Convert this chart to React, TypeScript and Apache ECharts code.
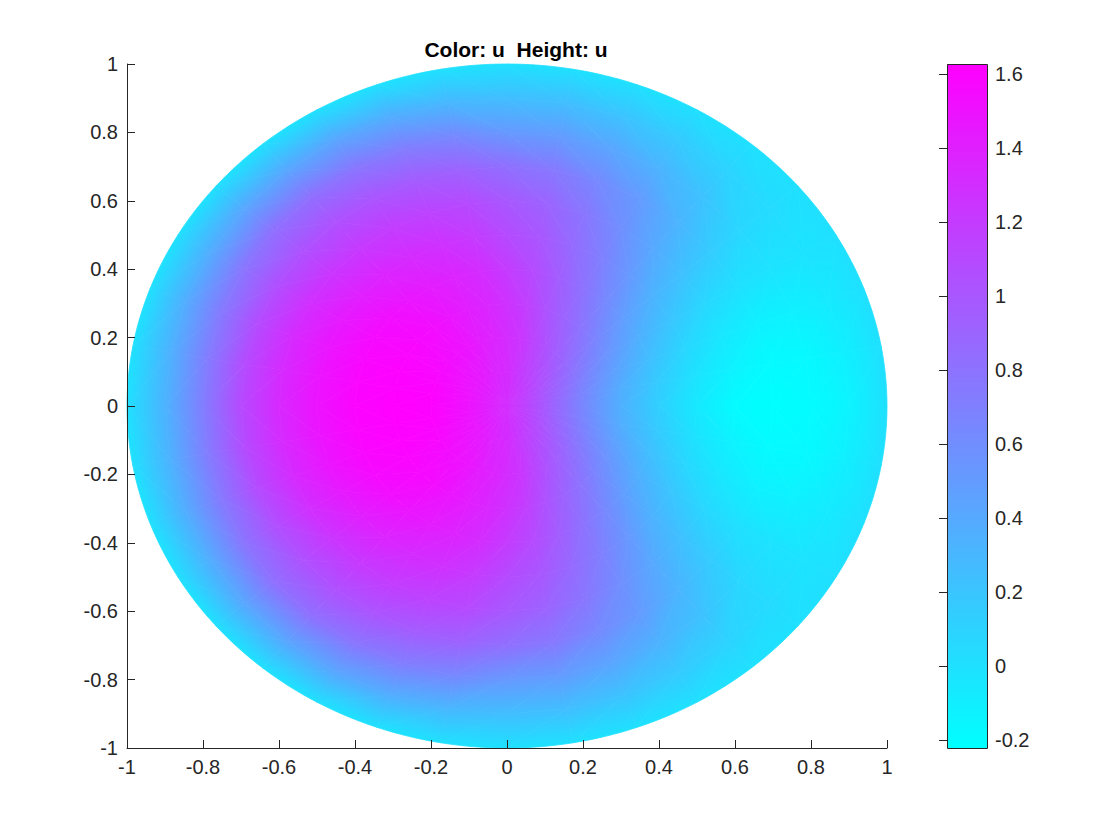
import React, { useEffect, useRef } from "react";
import * as echarts from "echarts";

// ---------- data ----------
const TITLE = "Color: u  Height: u";
const X_TICKS = [-1, -0.8, -0.6, -0.4, -0.2, 0, 0.2, 0.4, 0.6, 0.8, 1];
const Y_TICKS = [-1, -0.8, -0.6, -0.4, -0.2, 0, 0.2, 0.4, 0.6, 0.8, 1];
const COLORBAR_TICKS = [-0.2, 0, 0.2, 0.4, 0.6, 0.8, 1, 1.2, 1.4, 1.6];
const U_RANGE = [-0.222, 1.627];
const COOL_COLORMAP = ["#00ffff", "#ff00ff"];

// polar sampling of u on the unit disk
const RADII = [0.1, 0.2, 0.3, 0.4, 0.5, 0.6, 0.7, 0.8, 0.9, 1.0];
const ANGLES_DEG = [
  0, 10, 20, 30, 40, 50, 60, 70, 80, 90, 100, 110, 120, 130, 140, 150, 160, 170,
  180, 190, 200, 210, 220, 230, 240, 250, 260, 270, 280, 290, 300, 310, 320, 330, 340, 350,
];
const U_CENTER = 1.3;
const U_R01 = [0.98, 0.99, 1.01, 1.04, 1.08, 1.12, 1.16, 1.21, 1.27, 1.32, 1.34, 1.37, 1.41, 1.44, 1.46, 1.47, 1.49, 1.5, 1.5, 1.5, 1.49, 1.47, 1.46, 1.44, 1.41, 1.37, 1.34, 1.32, 1.27, 1.21, 1.16, 1.12, 1.08, 1.04, 1.01, 0.99];
const U_R02 = [0.65, 0.67, 0.72, 0.79, 0.87, 0.95, 1.04, 1.14, 1.25, 1.31, 1.37, 1.42, 1.48, 1.51, 1.54, 1.57, 1.59, 1.61, 1.61, 1.61, 1.59, 1.57, 1.54, 1.51, 1.48, 1.42, 1.37, 1.31, 1.25, 1.14, 1.04, 0.95, 0.87, 0.79, 0.72, 0.67];
const U_R03 = [0.35, 0.38, 0.46, 0.56, 0.67, 0.79, 0.91, 1.03, 1.17, 1.27, 1.35, 1.42, 1.48, 1.54, 1.57, 1.59, 1.61, 1.62, 1.627, 1.62, 1.61, 1.59, 1.57, 1.54, 1.48, 1.42, 1.35, 1.27, 1.17, 1.03, 0.91, 0.79, 0.67, 0.56, 0.46, 0.38];
const U_R04 = [0.12, 0.16, 0.24, 0.35, 0.48, 0.64, 0.8, 0.95, 1.09, 1.2, 1.31, 1.37, 1.43, 1.48, 1.53, 1.56, 1.58, 1.59, 1.6, 1.59, 1.58, 1.56, 1.53, 1.48, 1.43, 1.37, 1.31, 1.2, 1.09, 0.95, 0.8, 0.64, 0.48, 0.35, 0.24, 0.16];
const U_R05 = [-0.06, -0.01, 0.07, 0.19, 0.33, 0.52, 0.7, 0.86, 1.0, 1.09, 1.21, 1.28, 1.32, 1.37, 1.41, 1.45, 1.48, 1.49, 1.5, 1.49, 1.48, 1.45, 1.41, 1.37, 1.32, 1.28, 1.21, 1.09, 1.0, 0.86, 0.7, 0.52, 0.33, 0.19, 0.07, -0.01];
const U_R06 = [-0.19, -0.13, -0.05, 0.07, 0.23, 0.4, 0.59, 0.77, 0.91, 0.99, 1.1, 1.15, 1.19, 1.22, 1.25, 1.29, 1.32, 1.33, 1.34, 1.33, 1.32, 1.29, 1.25, 1.22, 1.19, 1.15, 1.1, 0.99, 0.91, 0.77, 0.59, 0.4, 0.23, 0.07, -0.05, -0.13];
const U_R07 = [-0.222, -0.19, -0.12, 0.0, 0.15, 0.32, 0.5, 0.63, 0.76, 0.82, 0.92, 0.97, 1.02, 1.05, 1.05, 1.06, 1.08, 1.09, 1.1, 1.09, 1.08, 1.06, 1.05, 1.05, 1.02, 0.97, 0.92, 0.82, 0.76, 0.63, 0.5, 0.32, 0.15, 0.0, -0.12, -0.19];
const U_R08 = [-0.2, -0.18, -0.12, -0.02, 0.07, 0.22, 0.33, 0.43, 0.5, 0.52, 0.64, 0.72, 0.78, 0.82, 0.82, 0.78, 0.75, 0.73, 0.72, 0.73, 0.75, 0.78, 0.82, 0.82, 0.78, 0.72, 0.64, 0.52, 0.5, 0.43, 0.33, 0.22, 0.07, -0.02, -0.12, -0.18];
const U_R09 = [-0.14, -0.11, -0.07, -0.02, 0.04, 0.1, 0.16, 0.21, 0.25, 0.25, 0.3, 0.37, 0.42, 0.42, 0.42, 0.38, 0.37, 0.34, 0.33, 0.34, 0.37, 0.38, 0.42, 0.42, 0.42, 0.37, 0.3, 0.25, 0.25, 0.21, 0.16, 0.1, 0.04, -0.02, -0.07, -0.11];
const U_R10 = [0, 0, 0, 0, 0, 0, 0, 0, 0, 0, 0, 0, 0, 0, 0, 0, 0, 0, 0, 0, 0, 0, 0, 0, 0, 0, 0, 0, 0, 0, 0, 0, 0, 0, 0, 0];
const U_RINGS = [U_R01, U_R02, U_R03, U_R04, U_R05, U_R06, U_R07, U_R08, U_R09, U_R10];

// ---------- styling ----------
const FONT = "'Liberation Sans', Arial, Helvetica, sans-serif";
const AXIS_COLOR = "#262626";
const TICK_FONT = 20;
const MAIN = { left: 127, top: 64, width: 760, height: 684 };
const CBAR = { left: 947, top: 64, width: 40, height: 684 };

function hexToRgb(h: string) {
  const n = parseInt(h.slice(1), 16);
  return [(n >> 16) & 255, (n >> 8) & 255, n & 255];
}
const C0 = hexToRgb(COOL_COLORMAP[0]);
const C1 = hexToRgb(COOL_COLORMAP[1]);
function cmap(v: number) {
  let t = (v - U_RANGE[0]) / (U_RANGE[1] - U_RANGE[0]);
  t = Math.max(0, Math.min(1, t));
  const c = C0.map((a, i) => Math.round(a + (C1[i] - a) * t));
  return `rgb(${c[0]},${c[1]},${c[2]})`;
}

// triangles built from the polar samples: [x1,y1,v1,x2,y2,v2,x3,y3,v3,arc]
function buildTriangles() {
  const node = (i: number, j: number) => {
    if (i < 0) return [0, 0, U_CENTER];
    const a = (ANGLES_DEG[j] * Math.PI) / 180;
    return [RADII[i] * Math.cos(a), RADII[i] * Math.sin(a), U_RINGS[i][j]];
  };
  const tris: number[][] = [];
  const nA = ANGLES_DEG.length;
  const last = RADII.length - 1;
  for (let j = 0; j < nA; j++) {
    const j1 = (j + 1) % nA;
    tris.push([...node(-1, 0), ...node(0, j), ...node(0, j1), 0]);
    for (let i = 0; i < last; i++) {
      const arc = i + 1 === last ? 1 : 0;
      if (j < nA / 2) {
        tris.push([...node(i, j), ...node(i, j1), ...node(i + 1, j1), 0]);
        tris.push([...node(i, j), ...node(i + 1, j1), ...node(i + 1, j), arc]);
      } else {
        tris.push([...node(i, j), ...node(i, j1), ...node(i + 1, j), 0]);
        tris.push([...node(i, j1), ...node(i + 1, j1), ...node(i + 1, j), arc]);
      }
    }
  }
  return tris;
}

function gradientFor(P: number[][], V: number[]) {
  const [x1, y1] = P[0];
  const [x2, y2] = P[1];
  const [x3, y3] = P[2];
  const vmin = Math.min(...V);
  const vmax = Math.max(...V);
  const d = (x2 - x1) * (y3 - y1) - (x3 - x1) * (y2 - y1);
  if (Math.abs(d) < 1e-9 || vmax - vmin < 1e-6) return cmap((vmin + vmax) / 2);
  const a = ((V[1] - V[0]) * (y3 - y1) - (V[2] - V[0]) * (y2 - y1)) / d;
  const b = ((x2 - x1) * (V[2] - V[0]) - (x3 - x1) * (V[1] - V[0])) / d;
  const g2 = a * a + b * b;
  if (g2 < 1e-12) return cmap((vmin + vmax) / 2);
  const k = V.indexOf(vmin);
  const [sx, sy] = P[k];
  const s = (vmax - vmin) / g2;
  return new echarts.graphic.LinearGradient(
    sx, sy, sx + a * s, sy + b * s,
    [
      { offset: 0, color: cmap(vmin) },
      { offset: 1, color: cmap(vmax) },
    ],
    true
  );
}

const fmt = (v: number) => String(Math.round(v * 10) / 10);

export default function App() {
  const ref = useRef<HTMLDivElement>(null);
  useEffect(() => {
    if (!ref.current) return;
    const chart = echarts.init(ref.current, undefined, { renderer: "svg" });
    const triangles = buildTriangles();
    const axisLine = { show: true, onZero: false, lineStyle: { color: AXIS_COLOR, width: 1 } };
    const axisTick = { show: true, inside: true, length: 8, lineStyle: { color: AXIS_COLOR, width: 1 } };
    const axisLabel = { color: AXIS_COLOR, fontSize: TICK_FONT, fontFamily: FONT, formatter: fmt };

    chart.setOption({
      animation: false,
      backgroundColor: "#ffffff",
      grid: [
        { ...MAIN, containLabel: false },
        { ...CBAR, containLabel: false },
      ],
      xAxis: [
        {
          gridIndex: 0, type: "value", position: "bottom", min: -1, max: 1, interval: 0.2, z: 5,
          axisLine, axisTick: { ...axisTick, customValues: X_TICKS }, splitLine: { show: false },
          axisLabel: { ...axisLabel, margin: 9, customValues: X_TICKS },
        },
        { gridIndex: 1, type: "value", min: 0, max: 1, show: false },
      ],
      yAxis: [
        {
          gridIndex: 0, type: "value", position: "left", min: -1, max: 1, interval: 0.2, z: 5,
          axisLine, axisTick: { ...axisTick, customValues: Y_TICKS }, splitLine: { show: false },
          axisLabel: { ...axisLabel, margin: 9, customValues: Y_TICKS },
        },
        {
          gridIndex: 1, type: "value", position: "right",
          min: U_RANGE[0], max: U_RANGE[1], z: 5,
          axisLine: { show: false },
          axisTick: { ...axisTick, customValues: COLORBAR_TICKS },
          axisLabel: { ...axisLabel, margin: 8, customValues: COLORBAR_TICKS },
          splitLine: { show: false },
        },
      ],
      series: [
        {
          type: "custom",
          xAxisIndex: 0,
          yAxisIndex: 0,
          silent: true,
          clip: false,
          data: triangles,
          renderItem: (params: any, api: any) => {
            const P = [0, 1, 2].map((k) => api.coord([api.value(3 * k), api.value(3 * k + 1)]));
            const V = [0, 1, 2].map((k) => api.value(3 * k + 2));
            const points: number[][] = [P[0], P[1]];
            if (api.value(9)) {
              const xa = api.value(3), ya = api.value(4), xb = api.value(6), yb = api.value(7);
              const r = Math.hypot(xa, ya);
              const a0 = Math.atan2(ya, xa);
              let da = Math.atan2(yb, xb) - a0;
              while (da > Math.PI) da -= 2 * Math.PI;
              while (da < -Math.PI) da += 2 * Math.PI;
              const n = 8;
              for (let k = 1; k < n; k++) {
                const a = a0 + (da * k) / n;
                points.push(api.coord([r * Math.cos(a), r * Math.sin(a)]));
              }
            }
            points.push(P[2]);
            return {
              type: "polygon",
              shape: { points },
              style: {
                fill: gradientFor(P, V),
                stroke: gradientFor(P, V),
                lineWidth: 0.8,
                lineJoin: "round",
              },
            };
          },
        },
        {
          type: "custom",
          xAxisIndex: 1,
          yAxisIndex: 1,
          silent: true,
          data: [[0, U_RANGE[0], 1, U_RANGE[1]]],
          renderItem: (params: any, api: any) => {
            const p0 = api.coord([api.value(0), api.value(1)]);
            const p1 = api.coord([api.value(2), api.value(3)]);
            return {
              type: "rect",
              shape: { x: p0[0], y: p1[1], width: p1[0] - p0[0], height: p0[1] - p1[1] },
              style: {
                fill: new echarts.graphic.LinearGradient(0, 1, 0, 0, [
                  { offset: 0, color: COOL_COLORMAP[0] },
                  { offset: 1, color: COOL_COLORMAP[1] },
                ]),
              },
            };
          },
        },
      ],
      graphic: [
        {
          type: "rect",
          z: 100,
          silent: true,
          shape: { x: CBAR.left + 0.5, y: CBAR.top + 0.5, width: CBAR.width, height: CBAR.height },
          style: { fill: "none", stroke: AXIS_COLOR, lineWidth: 1 },
        },
        {
          type: "text",
          z: 100,
          x: 516,
          y: 49,
          style: {
            text: TITLE,
            fill: "#000000",
            font: `bold 21px ${FONT}`,
            textAlign: "center",
            textVerticalAlign: "middle",
          },
        },
      ],
    });
    return () => chart.dispose();
  }, []);
  return (
    <div
      ref={ref}
      style={{ position: "fixed", left: 0, top: 0, width: 1120, height: 840, background: "#fff" }}
    />
  );
}
